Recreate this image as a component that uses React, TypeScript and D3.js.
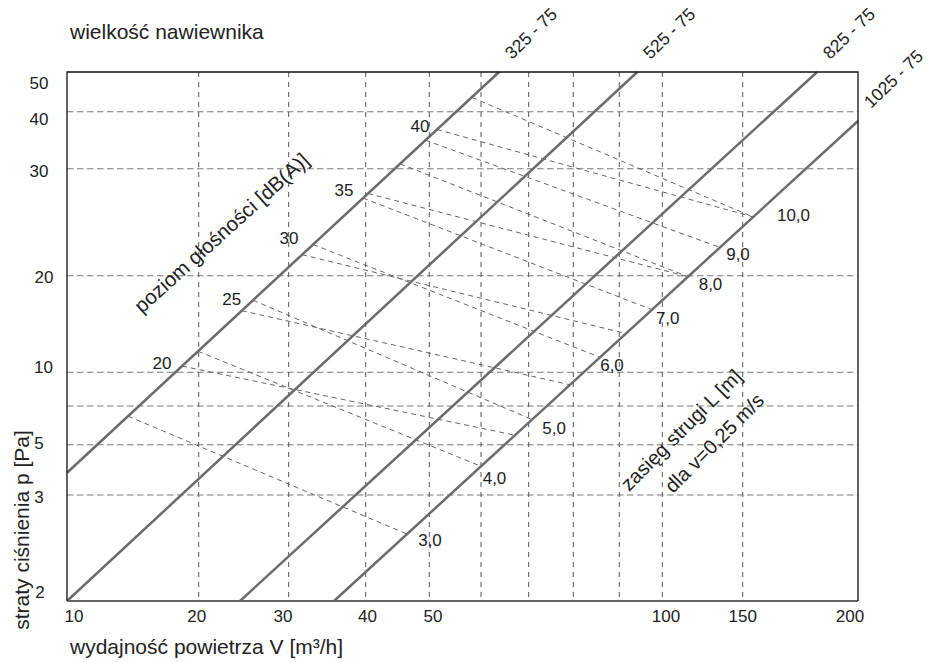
import React from "react";
import * as d3 from "d3";

// ---------- data ----------
const xTickValues = [10, 20, 30, 40, 50, 100, 150, 200];
const xGridValues = [20, 30, 40, 50, 60, 70, 80, 90, 100, 150];
const yTickValues = [2, 3, 5, 10, 20, 30, 40, 50];
const yGridValues = [3, 5, 7, 10, 20, 30, 40];

const sizeNames = ["325 - 75", "525 - 75", "825 - 75", "1025 - 75"];
const sizeStartV = [9.6, 9.6, 24.09, 35.53];
const sizeStartP = [3.76, 1.9, 1.9, 1.9];
const sizeEndV = [63.6, 94.06, 183.1, 206];
const sizeEndP = [55, 55, 55, 38.17];

const noiseLabels = ["20", "25", "30", "35", "40"];
const noiseStartV = [18.23, 24.28, 31.53, 40.32, 51.38];
const noiseStartP = [10.46, 15.56, 21.66, 27.31, 36.56];
const noiseEndV = [66.97, 79.21, 91.49, 113.84, 154.2];
const noiseEndP = [5.43, 8.76, 13.21, 19.86, 24.99];

const throwLabels = ["3,0", "4,0", "5,0", "6,0", "7,0", "8,0", "9,0", "10,0"];
const throwStartV = [13.5, 19.92, 25.54, 32.85, 39.6, 45.11, 49.34, 58.13];
const throwStartP = [6.41, 11.63, 16.78, 22.51, 26.84, 30.75, 34.64, 44.7];
const throwEndV = [46.24, 60, 70.7, 85.66, 97.51, 113.84, 133.78, 154.2];
const throwEndP = [2.548, 4.015, 6.22, 11.14, 15.67, 19.86, 22.26, 24.99];

// ---------- layout ----------
const W = 927;
const H = 662;
const PL = 67, PR = 858, PT = 72, PB = 601;
// the printed axes are not uniform log scales: piecewise log scales
const xStops = [9.6, 10, 20, 30, 40, 50, 60, 70, 80, 90, 100, 150, 200, 206];
const xPix = [PL, 74, 198.7, 288.7, 365.7, 429.3, 481, 528.7, 573.3, 619.3, 662.3, 742.7, 850, PR];
const yStops = [1.9, 2, 3, 5, 7, 10, 20, 30, 40, 50, 55];
const yPix = [PB, 592, 495, 444.7, 406, 372.3, 275.7, 168.7, 111.7, 83, PT];

// label nudges (as printed)
const xLabelDx = [0, -2, -5.7, 1.8, 3.7, 3.7, 0, 0];
const yLabelDx = [40, 39, 39, 43.5, 44, 39, 39, 39];
const yLabelDy = [0, 1.7, -1.7, -5.6, 1, 2.3, 7.3, 0];

const noiseOff = [[-20, -3], [-10, -12], [-13, -17], [-24, -3], [-17, -4]];
const throwOff = [[23, 7], [13.5, 12.7], [22, 9.4], [12, 8.7], [15.7, 9], [22.5, 8], [18, 7.6], [40.5, -1]];

const FONT = "'Liberation Sans', Arial, Helvetica, sans-serif";
const TXT = "#222";
const NUM = 17;
const WORD = 21;

export default function App() {
  const x = d3.scaleLog().domain(xStops).range(xPix);
  const y = d3.scaleLog().domain(yStops).range(yPix);
  const line = d3.line<[number, number]>().x((d) => x(d[0])).y((d) => y(d[1]));

  return (
    <svg
      width={W}
      height={H}
      style={{ position: "absolute", left: 0, top: 0, background: "#fff" }}
      fontFamily={FONT}
    >
      <rect x={0} y={0} width={W} height={H} fill="#fff" />
      {/* grid */}
      {yGridValues.map((v) => (
        <line key={"gy" + v} x1={PL} x2={PR} y1={y(v)} y2={y(v)} stroke="#7a7a7a" strokeWidth={1.1} strokeDasharray="6.5 3.5" />
      ))}
      {xGridValues.map((v) => (
        <line key={"gx" + v} x1={x(v)} x2={x(v)} y1={PT} y2={PB} stroke="#555" strokeWidth={1} strokeDasharray="5 5" />
      ))}

      {/* noise level lines */}
      {noiseLabels.map((n, i) => (
        <path key={"nl" + n} d={line([[noiseStartV[i], noiseStartP[i]], [noiseEndV[i], noiseEndP[i]]]) || ""} fill="none" stroke="#666" strokeWidth={1} strokeDasharray="5 4" />
      ))}
      {/* throw lines */}
      {throwLabels.map((n, i) => (
        <path key={"tl" + n} d={line([[throwStartV[i], throwStartP[i]], [throwEndV[i], throwEndP[i]]]) || ""} fill="none" stroke="#666" strokeWidth={1} strokeDasharray="5 4" />
      ))}

      {/* size diagonals */}
      {sizeNames.map((s, i) => (
        <path key={"d" + s} d={line([[sizeStartV[i], sizeStartP[i]], [sizeEndV[i], sizeEndP[i]]]) || ""} fill="none" stroke="#6b6b6b" strokeWidth={2.5} />
      ))}

      {/* frame */}
      <line x1={PL} x2={PR} y1={PB} y2={PB} stroke="#666" strokeWidth={2} />
      <path d={`M${PL},${PB}V${PT}H${PR}V${PB}`} fill="none" stroke="#111" strokeWidth={1.3} />

      {/* size labels */}
      {sizeNames.map((s, i) => {
        const ex = x(sizeEndV[i]) + 13;
        const ey = y(sizeEndP[i]) - 12;
        return (
          <text key={"sl" + s} x={ex} y={ey} fontSize={17.5} fill={TXT} transform={`rotate(-44 ${ex} ${ey})`}>
            {s}
          </text>
        );
      })}

      {/* noise labels */}
      {noiseLabels.map((n, i) => (
        <text key={"nt" + n} x={x(noiseStartV[i]) + noiseOff[i][0]} y={y(noiseStartP[i]) + noiseOff[i][1] + 6} fontSize={NUM} fill={TXT} textAnchor="middle">
          {n}
        </text>
      ))}
      {/* throw labels */}
      {throwLabels.map((n, i) => (
        <text key={"tt" + n} x={x(throwEndV[i]) + throwOff[i][0]} y={y(throwEndP[i]) + throwOff[i][1] + 5} fontSize={NUM} fill={TXT} textAnchor="middle">
          {n}
        </text>
      ))}

      {/* axis tick labels */}
      {xTickValues.map((v, i) => (
        <text key={"xt" + v} x={x(v) + xLabelDx[i]} y={PB + 21} fontSize={NUM} fill={TXT} textAnchor="middle">
          {v}
        </text>
      ))}
      {yTickValues.map((v, i) => (
        <text key={"yt" + v} x={yLabelDx[i]} y={y(v) + yLabelDy[i] + 6} fontSize={NUM} fill={TXT} textAnchor="middle">
          {v}
        </text>
      ))}

      {/* titles */}
      <text x={70} y={39} fontSize={WORD} fill={TXT}>wielkość nawiewnika</text>
      <text x={70} y={654} fontSize={WORD} fill={TXT}>wydajność powietrza V [m³/h]</text>
      <text x={0} y={0} fontSize={WORD} fill={TXT} textAnchor="middle" transform="translate(29,530) rotate(-90)">
        straty ciśnienia p [Pa]
      </text>
      <text x={0} y={0} fontSize={20.5} fill={TXT} transform="translate(142,314) rotate(-42)">
        poziom głośności [dB(A)]
      </text>
      <text x={0} y={0} fontSize={20} fill={TXT} transform="translate(629,492) rotate(-45)">
        zasięg strugi L [m]
      </text>
      <text x={0} y={0} fontSize={20} fill={TXT} transform="translate(673,494) rotate(-45)">
        dla v=0,25 m/s
      </text>
    </svg>
  );
}
